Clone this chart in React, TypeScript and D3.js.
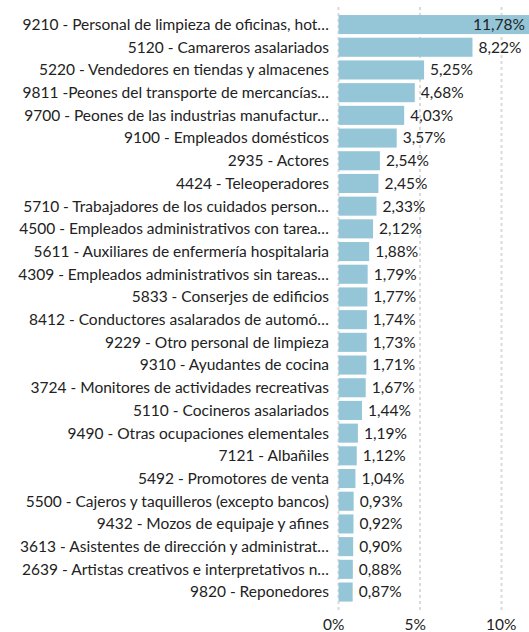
import { useEffect, useRef } from 'react';
import * as d3 from 'd3';

const labels = [
  '9210 - Personal de limpieza de oficinas, hot…',
  '5120 - Camareros asalariados',
  '5220 - Vendedores en tiendas y almacenes',
  '9811 -Peones del transporte de mercancías…',
  '9700 - Peones de las industrias manufactur…',
  '9100 - Empleados domésticos',
  '2935 - Actores',
  '4424 - Teleoperadores',
  '5710 - Trabajadores de los cuidados person…',
  '4500 - Empleados administrativos con tarea…',
  '5611 - Auxiliares de enfermería hospitalaria',
  '4309 - Empleados administrativos sin tareas…',
  '5833 - Conserjes de edificios',
  '8412 - Conductores asalarados de automó…',
  '9229 - Otro personal de limpieza',
  '9310 - Ayudantes de cocina',
  '3724 - Monitores de actividades recreativas',
  '5110 - Cocineros asalariados',
  '9490 - Otras ocupaciones elementales',
  '7121 - Albañiles',
  '5492 - Promotores de venta',
  '5500 - Cajeros y taquilleros (excepto bancos)',
  '9432 - Mozos de equipaje y afines',
  '3613 - Asistentes de dirección y administrat…',
  '2639 - Artistas creativos e interpretativos n…',
  '9820 - Reponedores',
];

const values = [
  11.78, 8.22, 5.25, 4.68, 4.03, 3.57, 2.54, 2.45, 2.33, 2.12, 1.88, 1.79, 1.77,
  1.74, 1.73, 1.71, 1.67, 1.44, 1.19, 1.12, 1.04, 0.93, 0.92, 0.9, 0.88, 0.87,
];

const ticks = [0, 5, 10];

const W = 529;
const H = 632;
const FONT = 'Lato, sans-serif';
const FS = 15.5;
const fmt = (v: number) => v.toFixed(2).replace('.', ',') + '%';

export default function App() {
  const ref = useRef<SVGSVGElement>(null);

  useEffect(() => {
    if (!ref.current) return;
    const svg = d3.select(ref.current);
    svg.selectAll('*').remove();

    const x = d3.scaleLinear().domain([0, 10]).range([338.5, 501.5]);
    const y = d3.scaleBand<string>().domain(labels).range([11.4, 605.2]).padding(0.16);

    // gridlines
    svg.append('g')
      .selectAll('line')
      .data(ticks)
      .join('line')
      .attr('x1', d => x(d))
      .attr('x2', d => x(d))
      .attr('y1', 7)
      .attr('y2', 612)
      .attr('stroke', '#dadada')
      .attr('stroke-width', 2)
      .attr('stroke-dasharray', '3,3');

    // tick labels (start-anchored a little left of each gridline)
    svg.append('g')
      .selectAll('text')
      .data(ticks)
      .join('text')
      .attr('x', d => x(d) - 15.5)
      .attr('y', 630)
      .attr('text-anchor', 'start')
      .attr('font-family', FONT)
      .attr('font-size', FS)
      .attr('fill', '#222')
      .text(d => `${d}%`);

    const rows = svg.append('g')
      .selectAll('g')
      .data(labels.map((l, i) => ({ label: l, value: values[i] })))
      .join('g');

    rows.append('rect')
      .attr('x', x(0))
      .attr('y', d => y(d.label)!)
      .attr('width', d => Math.min(x(d.value), W) - x(0))
      .attr('height', y.bandwidth())
      .attr('fill', '#95c6d8');

    rows.append('text')
      .attr('x', 329)
      .attr('y', d => y(d.label)! + y.bandwidth() / 2)
      .attr('dy', '0.35em')
      .attr('text-anchor', 'end')
      .attr('font-family', FONT)
      .attr('font-size', FS)
      .attr('fill', '#222')
      .text(d => d.label);

    // value labels: inside for the widest bar, outside otherwise
    rows.append('text')
      .attr('x', d => (d.value > 10 ? Math.min(x(d.value), W) - 4 : x(d.value) + 6))
      .attr('y', d => y(d.label)! + y.bandwidth() / 2)
      .attr('dy', '0.35em')
      .attr('text-anchor', d => (d.value > 10 ? 'end' : 'start'))
      .attr('font-family', FONT)
      .attr('font-size', FS)
      .attr('fill', '#222')
      .text(d => fmt(d.value));
  }, []);

  return (
    <div style={{ position: 'absolute', left: 0, top: 0 }}>
      <svg ref={ref} width={W} height={H} style={{ display: 'block', background: '#fff' }} />
    </div>
  );
}
